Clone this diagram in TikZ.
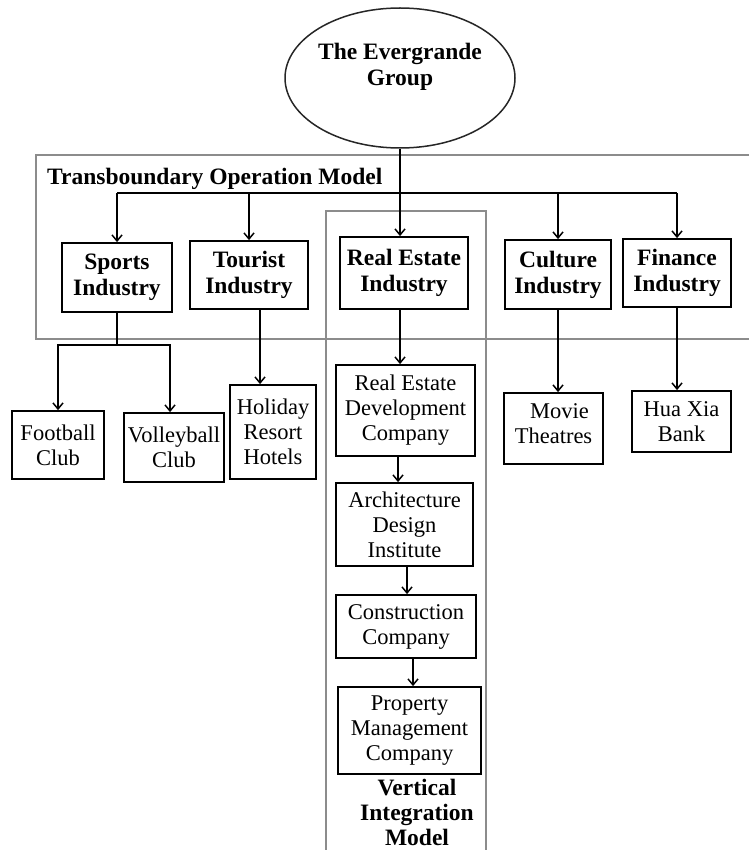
\documentclass[tikz,border=0pt]{standalone}
\usepackage{fontspec}
\setmainfont{Liberation Serif}
\usetikzlibrary{shapes.geometric,arrows.meta}
\begin{document}
\begin{tikzpicture}[x=1pt,y=-1pt,
  regfont/.style={font=\fontsize{22.5}{25}\selectfont},
  boldfont/.style={font=\fontsize{23.5}{26}\selectfont\bfseries},
  box/.style={draw=black,line width=1.8pt,rectangle,inner sep=0pt,align=center,regfont},
  bbox/.style={box,boldfont},
  frame/.style={draw=black!45,line width=1.5pt},
  conn/.style={draw=black,line width=1.8pt},
  arr/.style={conn,-{Straight Barb[length=6pt,width=10pt,line width=1.5pt]}},
]
\useasboundingbox (0,0) rectangle (749,850);
% frames
\draw[frame] (749,155) -- (36,155) -- (36,339) -- (749,339);
\draw[frame] (326,850) -- (326,211) -- (486,211) -- (486,850);
\node[boldfont,anchor=west,inner sep=0pt] (tom) at (47,179) {Transboundary Operation Model};
% top
\node[ellipse,draw=black!85,line width=1.5pt,minimum width=230pt,minimum height=140pt,inner sep=0pt,
  label={[boldfont,align=center,yshift=11pt]center:The Evergrande\\Group}] (eg) at (400,78) {};
% level 1
\node[bbox,minimum width=110pt,minimum height=69pt] (sports) at (117,277.5) {Sports\\Industry};
\node[bbox,minimum width=118pt,minimum height=68pt] (tourist) at (249,275) {Tourist\\Industry};
\node[bbox,minimum width=128pt,minimum height=72pt] (realestate) at (404,273) {Real Estate\\Industry};
\node[bbox,minimum width=106pt,minimum height=69pt] (culture) at (558,274.5) {Culture\\Industry};
\node[bbox,minimum width=108pt,minimum height=68pt] (finance) at (677,273) {Finance\\Industry};
% level 2
\node[box,minimum width=92pt,minimum height=68pt] (football) at (58,445) {Football\\Club};
\node[box,minimum width=100pt,minimum height=69pt] (volleyball) at (174,447.5) {Volleyball\\Club};
\node[box,minimum width=86pt,minimum height=94pt] (holiday) at (273,432) {Holiday\\Resort\\Hotels};
\node[box,minimum width=139pt,minimum height=91pt] (red) at (405.5,410.5) {Real Estate\\Development\\Company};
\node[box,minimum width=99pt,minimum height=71pt,
  label={[regfont,align=center,yshift=5pt]center:\hspace{12pt}Movie\\Theatres}] (movie) at (553.5,428.5) {};
\node[box,minimum width=99pt,minimum height=61pt] (huaxia) at (681.5,421.5) {Hua Xia\\Bank};
\node[box,minimum width=137pt,minimum height=83pt] (arch) at (404.5,524.5) {Architecture\\Design\\Institute};
\node[box,minimum width=140pt,minimum height=63pt] (constr) at (406,626.5) {Construction\\Company};
\node[box,minimum width=143pt,minimum height=87pt] (prop) at (409.5,730.5) {Property\\Management\\Company};
\node[align=center,inner sep=0pt,font=\fontsize{23.5}{25}\selectfont\bfseries] (vim) at (417,812) {Vertical\\Integration\\Model};
% connectors
\coordinate (j) at (400,193);
\draw[conn] (eg.south) -- (j);
\draw[conn] (j -| sports) -- (j -| finance);
\draw[arr] (j -| sports) -- (sports.north);
\draw[arr] (j -| tourist) -- (tourist.north);
\draw[arr] (j) -- (j |- realestate.north);
\draw[arr] (j -| culture) -- (culture.north);
\draw[arr] (j -| finance) -- (finance.north);
\coordinate (sj) at (117,345);
\draw[conn] (sports.south) -- (sj);
\draw[arr] (sj) -| (football.north);
\draw[arr] (sj) -| ([xshift=-4pt]volleyball.north);
\draw[arr] ([xshift=11pt]tourist.south) -- ([xshift=-13pt]holiday.north);
\draw[arr] ([xshift=-4pt]realestate.south) -- ([xshift=-4pt]realestate.south |- red.north);
\draw[arr] (culture.south) -- (culture.south |- movie.north);
\draw[arr] (finance.south) -- (finance.south |- huaxia.north);
\draw[arr] ([xshift=-7.5pt]red.south) -- ([xshift=-7.5pt]red.south |- arch.north);
\draw[arr] ([xshift=2.5pt]arch.south) -- ([xshift=2.5pt]arch.south |- constr.north);
\draw[arr] ([xshift=7pt]constr.south) -- ([xshift=7pt]constr.south |- prop.north);
\end{tikzpicture}
\end{document}
